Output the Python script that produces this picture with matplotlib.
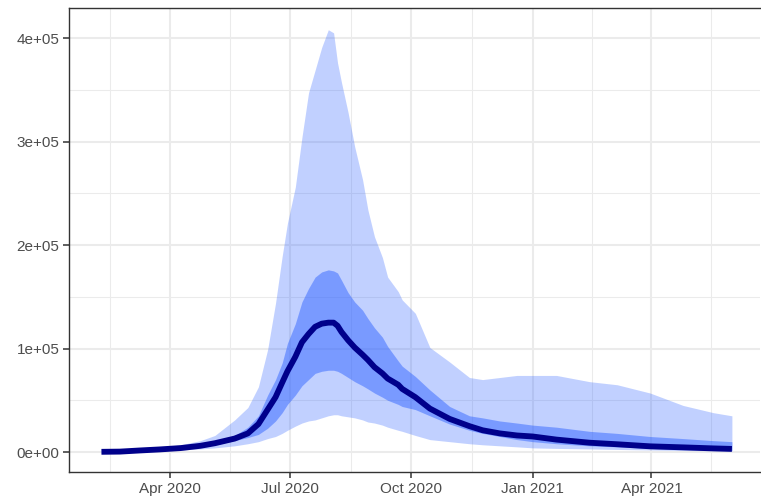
# -*- coding: utf-8 -*-
import logging
import matplotlib
matplotlib.use('Agg')
import matplotlib.pyplot as plt
import matplotlib.dates as mdates
import matplotlib.ticker as mticker
import pandas as pd

# Projection dates
dates = ['2020-02-09', '2020-02-23', '2020-03-09', '2020-03-24', '2020-04-09', '2020-04-24',
         '2020-05-05', '2020-05-20', '2020-05-30', '2020-06-07', '2020-06-14', '2020-06-20',
         '2020-06-25', '2020-06-29', '2020-07-05', '2020-07-10', '2020-07-15', '2020-07-20',
         '2020-07-25', '2020-07-30', '2020-08-03', '2020-08-06', '2020-08-09', '2020-08-14',
         '2020-08-19', '2020-08-25', '2020-08-29', '2020-09-03', '2020-09-09', '2020-09-13',
         '2020-09-21', '2020-09-24', '2020-10-04', '2020-10-15', '2020-10-30', '2020-11-14',
         '2020-11-24', '2020-12-07', '2020-12-20', '2021-01-01', '2021-01-19', '2021-02-13',
         '2021-03-06', '2021-03-31', '2021-04-25', '2021-05-18', '2021-06-01']

# Median and interval bounds (thousands)
median = [0.2, 0.4, 1.5, 2.5, 3.8, 6,
          8.5, 13, 18, 27, 41, 53,
          67, 78, 92, 106, 114, 121,
          124, 125, 125, 122, 116, 108,
          101, 94, 89, 82, 76, 71,
          65, 61, 53, 42, 32, 25,
          21, 18, 16, 15, 12, 9,
          7.5, 5.5, 4.5, 3.5, 3]
innerLow = [0.1, 0.3, 1.2, 2.0, 3.0, 5,
            7, 11, 14, 17, 23, 30,
            38, 46, 55, 64, 70, 76,
            78, 79, 79, 78, 76, 72,
            68, 64, 61, 57, 53, 50,
            46, 44, 41, 35, 27, 21,
            18, 15, 12, 10, 8, 6,
            5, 3.5, 2.5, 2, 1.5]
innerHigh = [0.3, 0.6, 2.0, 3.2, 4.5, 7.5,
             10, 16, 24, 35, 55, 70,
             86, 105, 124, 145, 158, 169,
             174, 176, 175, 173, 166, 154,
             145, 137, 129, 120, 111, 102,
             88, 83, 73, 60, 44, 35,
             33, 30, 28, 26, 24, 20,
             18, 15, 13, 11, 10]
outerLow = [0.0, 0.1, 0.7, 1.3, 2.0, 3,
            4, 6, 8, 10, 13, 15,
            18, 21, 25, 28, 30, 31,
            33, 35, 36, 36, 35, 34,
            33, 31, 29, 28, 26, 24,
            21, 20, 16, 12, 10, 8,
            7, 6, 5, 4, 3.5, 3,
            2.5, 2, 1.5, 1.2, 1]
outerHigh = [0.5, 1.0, 2.5, 4.5, 7, 11,
             16, 31, 43, 63, 99, 144,
             189, 221, 256, 304, 347, 369,
             391, 408, 405, 376, 357, 328,
             295, 263, 234, 208, 188, 169,
             155, 147, 134, 101, 87, 72,
             70, 72, 74, 74, 74, 68,
             65, 57, 45, 38, 35]

FILL = '#3366FF'
LINE = '#00008B'


# Draw the projection ribbons and median line
def drawProjectionChart() -> None:
    logging.info('Drawing projection chart ...')
    plt.rcParams['font.family'] = ['Liberation Sans', 'DejaVu Sans']

    df = pd.DataFrame({'date': pd.to_datetime(dates), 'median': median,
                       'innerLow': innerLow, 'innerHigh': innerHigh,
                       'outerLow': outerLow, 'outerHigh': outerHigh})
    for col in ['median', 'innerLow', 'innerHigh', 'outerLow', 'outerHigh']:
        df[col] = df[col] * 1000

    fig = plt.figure(figsize=(7.61, 5.04), dpi=100)
    ax = fig.add_axes([69 / 761, 1 - 472 / 504, 691 / 761, 464 / 504])

    ax.fill_between(df['date'], df['outerLow'], df['outerHigh'], color=FILL, alpha=0.3, lw=0, zorder=2)
    ax.fill_between(df['date'], df['innerLow'], df['innerHigh'], color=FILL, alpha=0.5, lw=0, zorder=3)
    ax.plot(df['date'], df['median'], color=LINE, lw=4.2, solid_capstyle='butt',
            solid_joinstyle='round', zorder=4)

    # Limits
    origin = pd.Timestamp('2020-04-01')
    ax.set_xlim(origin - pd.Timedelta(days=76.6), origin + pd.Timedelta(days=447.3))
    ax.set_ylim(-19300, 429000)

    # Ticks
    majors = pd.to_datetime(['2020-01-01', '2020-04-01', '2020-07-01', '2020-10-01',
                             '2021-01-01', '2021-04-01', '2021-07-01'])
    majorNums = mdates.date2num(majors)
    ax.set_xticks(majorNums[1:-1])
    ax.set_xticklabels(['Apr 2020', 'Jul 2020', 'Oct 2020', 'Jan 2021', 'Apr 2021'])
    ax.set_xticks((majorNums[:-1] + majorNums[1:]) / 2, minor=True)
    ax.set_yticks([0, 100000, 200000, 300000, 400000])
    ax.set_yticklabels(['0e+00', '1e+05', '2e+05', '3e+05', '4e+05'])
    ax.yaxis.set_minor_locator(mticker.FixedLocator([50000, 150000, 250000, 350000]))

    ax.tick_params(which='major', length=4, width=1.1, color='#333333',
                   labelcolor='#4D4D4D', labelsize=11, pad=3)
    ax.tick_params(which='minor', length=0)

    # Grid
    ax.set_axisbelow(True)
    ax.grid(which='major', color='#EBEBEB', lw=1.5)
    ax.grid(which='minor', color='#EBEBEB', lw=0.75)

    for side in ['top', 'left', 'bottom']:
        ax.spines[side].set_color('#333333')
        ax.spines[side].set_linewidth(1.0)
    ax.spines['right'].set_visible(False)

    fig.savefig('out.png', dpi=100)
    logging.info('Success ...')


drawProjectionChart()
